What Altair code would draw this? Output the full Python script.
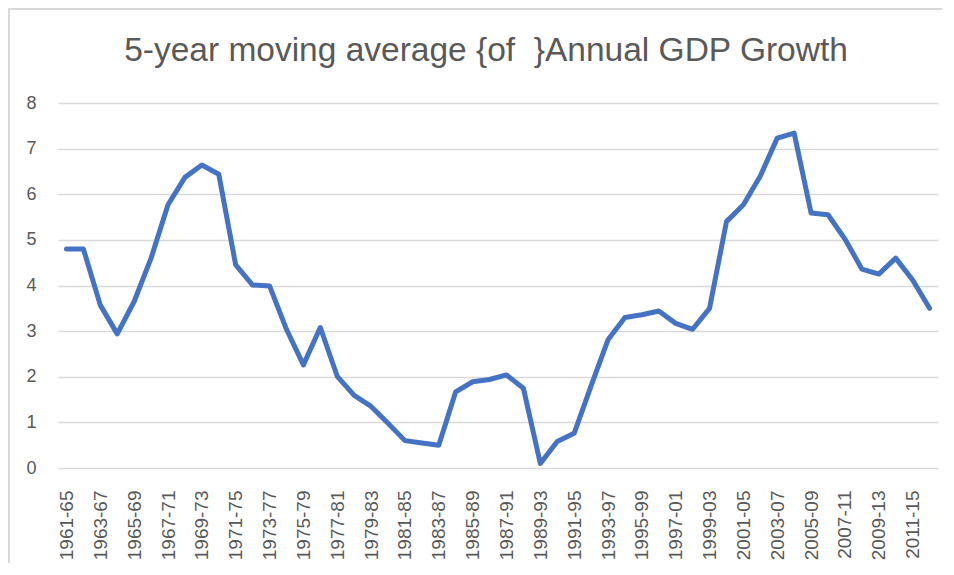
import altair as alt
import pandas as pd

periods = [f"{y}-{str(y + 4)[-2:]}" for y in range(1961, 2013)]
growth = [4.80, 4.80, 3.57, 2.94, 3.65, 4.60, 5.77, 6.37, 6.64, 6.44,
          4.45, 4.01, 3.99, 3.04, 2.26, 3.08, 2.01, 1.59, 1.35, 0.98,
          0.60, 0.55, 0.50, 1.67, 1.89, 1.94, 2.04, 1.75, 0.10, 0.58,
          0.76, 1.80, 2.81, 3.30, 3.36, 3.44, 3.17, 3.04, 3.50, 5.40,
          5.77, 6.40, 7.23, 7.34, 5.59, 5.55, 5.02, 4.36, 4.25, 4.60,
          4.12, 3.50]
shown_labels = periods[::2]
y_ticks = [0, 1, 2, 3, 4, 5, 6, 7, 8]

df = pd.DataFrame({"period": periods, "growth": growth})

FONT = "Liberation Sans"
GRAY = "#595959"

line = alt.Chart(df).mark_line(
    color="#4472C4", strokeWidth=5, strokeJoin="round", strokeCap="round"
).encode(
    x=alt.X("period:N", sort=periods,
            scale=alt.Scale(paddingInner=0, paddingOuter=0),
            axis=alt.Axis(title=None, values=shown_labels, labelAngle=-90,
                          labelFontSize=19, labelColor=GRAY, labelFont=FONT,
                          ticks=False, domain=False, grid=False,
                          labelPadding=22)),
    y=alt.Y("growth:Q", scale=alt.Scale(domain=[0, 8], nice=False),
            axis=alt.Axis(title=None, values=y_ticks, labelFontSize=18,
                          labelColor=GRAY, labelFont=FONT, ticks=False,
                          domain=False, grid=True, gridColor="#d9d9d9",
                          gridWidth=1.5, labelPadding=22)),
)

border = alt.Chart(pd.DataFrame({"k": [0]})).mark_rect(
    fill=None, stroke="#d9d9d9", strokeWidth=2, clip=False
).encode(
    x=alt.value(-49), x2=alt.value(1200),
    y=alt.value(-94), y2=alt.value(1200),
)

chart = alt.layer(border, line).properties(
    width=880, height=365,
    autosize=alt.AutoSizeParams(type="none"),
    padding={"left": 50, "top": 95, "right": 4, "bottom": 95},
    title=alt.TitleParams(
        text="5-year moving average {of \u00a0}Annual GDP Growth",
        font=FONT, fontSize=33.5, fontWeight="normal", color=GRAY,
        anchor="middle", frame="group", dx=-12, offset=-60,
    ),
).configure_view(stroke=None)

chart.save("out.html", embed_options={"renderer": "svg", "actions": False})
